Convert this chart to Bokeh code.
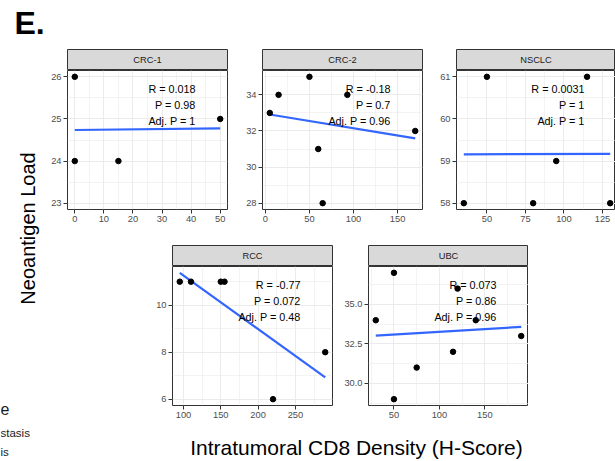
import numpy as np
from bokeh.plotting import figure
from bokeh.layouts import row, column
from bokeh.models import Range1d, FixedTicker, Label, Spacer, PrintfTickFormatter
from bokeh.embed import file_html
from bokeh.resources import INLINE

FONT = "Liberation Sans"

# ---------------- data ----------------
panel_names = ["CRC-1", "CRC-2", "NSCLC", "RCC", "UBC"]

crc1_x = [0, 0, 15, 50]
crc1_y = [26, 24, 24, 25]
crc1_ylim = [23, 26]          # y scale of this facet reaches down to 23
crc2_x = [5, 15, 50, 60, 65, 93, 170]
crc2_y = [33, 34, 35, 31, 28, 34, 32]
nsclc_x = [35, 50, 80, 95, 115, 130]
nsclc_y = [58, 61, 58, 59, 61, 58]
rcc_x = [95, 110, 150, 155, 220, 290]
rcc_y = [11, 11, 11, 11, 6, 8]
ubc_x = [30, 50, 50, 75, 115, 120, 140, 190]
ubc_y = [34, 37, 29, 31, 32, 36, 34, 33]

crc1_xticks = [0, 10, 20, 30, 40, 50]
crc1_yticks = [23, 24, 25, 26]
crc2_xticks = [0, 50, 100, 150]
crc2_yticks = [28, 30, 32, 34]
nsclc_xticks = [50, 75, 100, 125]
nsclc_yticks = [58, 59, 60, 61]
rcc_xticks = [100, 150, 200, 250]
rcc_yticks = [6, 8, 10]
ubc_xticks = [50, 100, 150]
ubc_yticks = [30.0, 32.5, 35.0]

stat_r = ["R = 0.018", "R = -0.18", "R = 0.0031", "R = -0.77", "R = 0.073"]
stat_p = ["P = 0.98", "P = 0.7", "P = 1", "P = 0.072", "P = 0.86"]
stat_adj = ["Adj. P = 1", "Adj. P = 0.96", "Adj. P = 1", "Adj. P = 0.48", "Adj. P = 0.96"]

y_title = "Neoantigen Load"
x_title = "Intratumoral CD8 Density (H-Score)"
panel_letter = "E."
legend_fragments = ["e", "stasis", "is"]

FH = 139  # frame height
STRIP_H = 21


def minor_breaks(ticks, lo, hi):
    b = list(ticks)
    d = b[1] - b[0]
    if lo < b[0]:
        b = [b[0] - d] + b
    if hi > b[-1]:
        b = b + [b[-1] + d]
    m = [(b[i] + b[i + 1]) / 2 for i in range(len(b) - 1)]
    return [v for v in m if lo <= v <= hi]


def base_fig(fw, fh, lb, rb, bb, xr, yr, axes=True):
    kw = dict(frame_width=fw, frame_height=fh, min_border_left=lb, min_border_right=rb,
              min_border_top=0, min_border_bottom=bb, x_range=xr, y_range=yr,
              output_backend="svg", toolbar_location=None, title=None)
    if not axes:
        kw.update(x_axis_location=None, y_axis_location=None)
    p = figure(**kw)
    p.background_fill_color = "white"
    p.border_fill_color = "white"
    return p


def strip(name, lb, rb, fw):
    s = base_fig(fw, STRIP_H, lb, rb, 0, Range1d(0, 1), Range1d(0, 1), axes=False)
    for g in s.grid:
        g.visible = False
    s.background_fill_color = "#D9D9D9"
    s.outline_line_color = "#333333"
    s.outline_line_width = 1
    s.add_layout(Label(x=0.5, y=0.5, text=name, text_align="center", text_baseline="middle",
                       text_font=FONT, text_font_size="9.3px", text_color="#1A1A1A"))
    return s


def panel(idx, xs, ys, xticks, yticks, lb, rb, bb, fw=160, full_w=160, ylim=None, yfmt=None):
    xs = np.asarray(xs, float)
    ys = np.asarray(ys, float)
    k, c = np.polyfit(xs, ys, 1)
    lx = np.array([xs.min(), xs.max()])
    ly = k * lx + c
    ex = 0.05 * (xs.max() - xs.min())
    x0, x1full = xs.min() - ex, xs.max() + ex
    x1 = x0 + (x1full - x0) * fw / full_w
    yvals = list(ys) + list(ly) + (list(ylim) if ylim else [])
    ylo, yhi = min(yvals), max(yvals)
    ey = 0.05 * (yhi - ylo)
    y0, y1 = ylo - ey, yhi + ey

    p = base_fig(fw, FH, lb, rb, bb, Range1d(x0, x1), Range1d(y0, y1))
    p.outline_line_color = "#333333"
    p.outline_line_width = 1

    xt = FixedTicker(ticks=xticks, minor_ticks=minor_breaks(xticks, x0, x1full))
    yt = FixedTicker(ticks=yticks, minor_ticks=minor_breaks(yticks, y0, y1))
    p.xaxis.ticker = xt
    p.yaxis.ticker = yt
    p.xgrid.ticker = xt
    p.ygrid.ticker = yt
    if yfmt:
        p.yaxis.formatter = PrintfTickFormatter(format=yfmt)
    for g in (p.xgrid[0], p.ygrid[0]):
        g.grid_line_color = "#EBEBEB"
        g.grid_line_width = 1
        g.minor_grid_line_color = "#EBEBEB"
        g.minor_grid_line_width = 0.6
    for ax in (p.xaxis[0], p.yaxis[0]):
        ax.axis_line_color = None
        ax.major_tick_line_color = "#333333"
        ax.major_tick_out = 4
        ax.major_tick_in = 0
        ax.minor_tick_out = 0
        ax.minor_tick_in = 0
        ax.major_label_text_font = FONT
        ax.major_label_text_font_size = "9.3px"
        ax.major_label_text_color = "#4D4D4D"
        ax.major_label_standoff = 2

    p.line(lx, ly, line_color="#3366FF", line_width=2.2)
    p.scatter(xs, ys, size=5.5, fill_color="black", line_color="black")

    lab_x = x0 + (x1 - x0) * 128.0 / fw
    for off, txt in zip((18, 34, 50), (stat_r[idx], stat_p[idx], stat_adj[idx])):
        p.add_layout(Label(x=lab_x, y=y1 - (y1 - y0) * off / FH, text=txt,
                           text_align="right", text_baseline="middle",
                           text_font=FONT, text_font_size="10.8px", text_color="black"))
    return p


def facet(idx, xs, ys, xticks, yticks, lb, rb, bb, fw=160, full_w=160, ylim=None, yfmt=None):
    return column(strip(panel_names[idx], lb, rb, fw),
                  panel(idx, xs, ys, xticks, yticks, lb, rb, bb, fw, full_w, ylim, yfmt),
                  spacing=0)


# ---------------- layout ----------------
f_crc1 = facet(0, crc1_x, crc1_y, crc1_xticks, crc1_yticks, 22, 5, 36, ylim=crc1_ylim)
f_crc2 = facet(1, crc2_x, crc2_y, crc2_xticks, crc2_yticks, 30, 4, 36)
f_nsclc = facet(2, nsclc_x, nsclc_y, nsclc_xticks, nsclc_yticks, 30, 0, 36, fw=159, full_w=161)
f_rcc = facet(3, rcc_x, rcc_y, rcc_xticks, rcc_yticks, 30, 6, 20)
f_ubc = facet(4, ubc_x, ubc_y, ubc_xticks, ubc_yticks, 30, 0, 20, yfmt="%.1f")

row1 = row(f_crc1, f_crc2, f_nsclc, spacing=0)
row2 = row(Spacer(width=97, height=180), f_rcc, f_ubc, spacing=0)

# x-axis title strip
xl = figure(width=570, height=36, x_range=Range1d(45, 615), y_range=Range1d(461, 425),
            min_border=0, x_axis_location=None, y_axis_location=None,
            output_backend="svg", toolbar_location=None, title=None)
xl.outline_line_color = None
for g in xl.grid:
    g.visible = False
xl.add_layout(Label(x=356, y=447, text=x_title, text_align="center", text_baseline="middle",
                    text_font=FONT, text_font_size="21px", text_color="black"))

right = column(Spacer(width=570, height=49), row1, row2, xl, spacing=0)

# left margin: panel letter, y-axis title, cropped legend fragments
left = figure(width=45, height=461, x_range=Range1d(0, 45), y_range=Range1d(461, 0),
              min_border=0, x_axis_location=None, y_axis_location=None,
              output_backend="svg", toolbar_location=None, title=None)
left.outline_line_color = None
for g in left.grid:
    g.visible = False
left.add_layout(Label(x=14, y=22, text=panel_letter, text_align="left", text_baseline="middle",
                      text_font=FONT, text_font_style="bold", text_font_size="32px",
                      text_color="black"))
left.add_layout(Label(x=27, y=228, text=y_title, angle=np.pi / 2, text_align="center",
                      text_baseline="middle", text_font=FONT, text_font_size="20px",
                      text_color="black"))
for txt, yy, fs in zip(legend_fragments, (408, 432, 451), ("16px", "11.5px", "11.5px")):
    left.add_layout(Label(x=0, y=yy, text=txt, text_align="left", text_baseline="middle",
                          text_font=FONT, text_font_size=fs, text_color="#1A1A1A"))

root = row(left, right, spacing=0)

with open("out.html", "w") as fh:
    fh.write(file_html(root, INLINE))
